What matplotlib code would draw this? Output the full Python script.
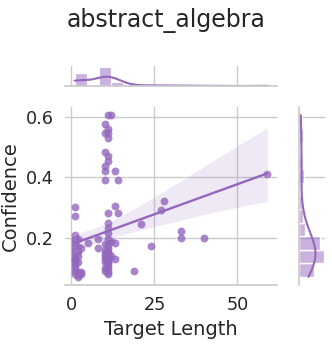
import matplotlib
matplotlib.use("Agg")
import matplotlib.pyplot as plt
import seaborn as sns
import numpy as np

# Target length (x) and confidence (y) per question
target_length = (
    [1] * 12 + [2] * 8 + [3] * 3 + [1, 1]
    + [1, 1, 1, 2]
    + [5, 8, 8]
    + [10] * 12 + [10, 10]
    + [11] * 25 + [11, 11, 11, 11]
    + [12, 12, 12]
    + [13] * 4
    + [14, 14]
    + [19, 21, 24, 27, 28, 33, 33, 40, 59]
)
confidence = (
    [0.21, 0.195, 0.19, 0.18, 0.17, 0.16, 0.14, 0.12, 0.11, 0.10, 0.09, 0.08]
    + [0.195, 0.17, 0.14, 0.12, 0.085, 0.075, 0.07, 0.155]
    + [0.165, 0.087, 0.08]
    + [0.30, 0.27]
    + [0.13, 0.15, 0.125, 0.155]
    + [0.183, 0.195, 0.165]
    + [0.574, 0.547, 0.483, 0.436, 0.421, 0.39, 0.18, 0.16, 0.14, 0.12, 0.10, 0.09]
    + [0.13, 0.15]
    + [0.605, 0.56, 0.547, 0.53, 0.469, 0.452, 0.281, 0.248, 0.231, 0.214,
       0.195, 0.19, 0.175, 0.165, 0.155, 0.145, 0.135, 0.125, 0.115, 0.105,
       0.095, 0.085, 0.15, 0.12, 0.08]
    + [0.14, 0.13, 0.15, 0.125]
    + [0.605, 0.19, 0.14]
    + [0.421, 0.306, 0.181, 0.13]
    + [0.39, 0.281]
    + [0.089, 0.244, 0.173, 0.292, 0.32, 0.222, 0.2, 0.198, 0.41]
)
x = np.array(target_length[:len(confidence)], dtype=float)
y = np.array(confidence[:len(x)], dtype=float)

COLOR = "#9467bd"

sns.set_theme(style="whitegrid")
plt.rcParams["font.family"] = ["DejaVu Sans"]

fig = plt.figure(figsize=(3.32, 3.46), dpi=100)
ax = fig.add_axes([0.1958, 0.1763, 0.6386, 0.5145])
ax_top = fig.add_axes([0.1958, 0.7514, 0.6386, 0.0578], sharex=ax)
ax_right = fig.add_axes([0.9006, 0.1763, 0.0783, 0.5145], sharey=ax)

sns.regplot(x=x, y=y, ax=ax, color=COLOR, seed=0,
            scatter_kws={"s": 32, "alpha": 0.8, "linewidths": 0},
            line_kws={"lw": 1.7})
sns.histplot(x=x, ax=ax_top, color=COLOR, kde=True, bins=16)
sns.histplot(y=y, ax=ax_right, color=COLOR, kde=True, bins=12)

ax.set_xlabel("Target Length", fontsize=14)
ax.set_ylabel("Confidence", fontsize=14)
ax.set_xticks([0, 25, 50])
ax.set_yticks([0.2, 0.4, 0.6])
ax.tick_params(labelsize=12.7, pad=2)
ax.spines["left"].set_visible(False)
ax.spines["top"].set_visible(False)
ax.spines["right"].set_visible(False)

for a in (ax_top, ax_right):
    a.set_xlabel("")
    a.set_ylabel("")
    for lab in a.get_xticklabels() + a.get_yticklabels():
        lab.set_visible(False)
    for s in a.spines.values():
        s.set_visible(False)

ax_top.spines["bottom"].set_visible(True)
ax_top.grid(False, axis="y")
ax_top.set_yticks([])
ax_right.spines["left"].set_visible(True)
ax_right.grid(False, axis="x")
ax_right.set_xticks([])

fig.suptitle("abstract_algebra", fontsize=17, y=0.978)

fig.savefig("out.png", dpi=100)
